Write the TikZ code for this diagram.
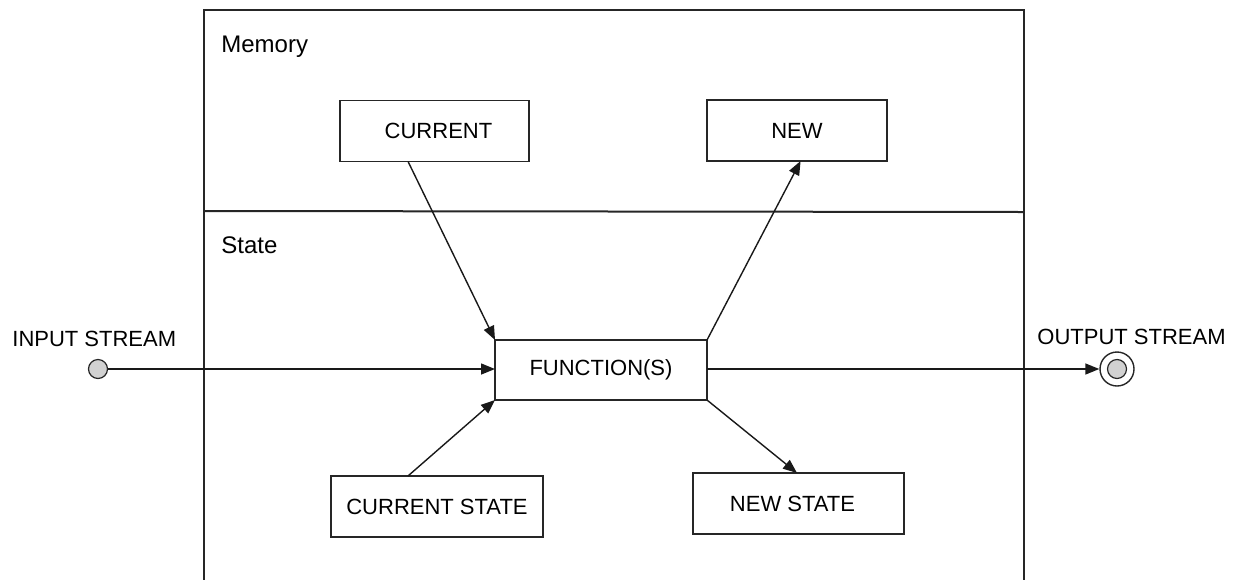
\documentclass[tikz,border=0pt]{standalone}
\usepackage{fontspec}
\setmainfont{Liberation Sans}
\usetikzlibrary{arrows.meta,calc}
\begin{document}
\begin{tikzpicture}[x=0.5pt,y=-0.5pt,
  frameline/.style={line width=1pt,draw=black!85},
  procbox/.style={draw=black!85,line width=0.8pt,rectangle,inner sep=0pt,outer sep=0pt,font=\fontsize{11}{13}\selectfont},
  flow/.style={draw=black!90,line width=0.7pt,-{Triangle[length=7pt,width=5.5pt]}},
  plainlabel/.style={inner sep=0pt,anchor=base west,font=\fontsize{11}{13}\selectfont},
  zonelabel/.style={inner sep=0pt,anchor=base west,font=\fontsize{12}{14}\selectfont},
  portdot/.style={circle,draw=black!85,line width=0.6pt,fill=black!18,inner sep=0pt,minimum size=9.5pt},
  portring/.style={circle,draw=black!85,line width=0.7pt,fill=white,inner sep=0pt,minimum size=17pt}
]
\useasboundingbox[fill=white] (0,0) rectangle (1246,579);

% outer frame with the memory / state divider
\draw[frameline] (204,585) -- (204,10) -- (1024,10) -- (1024,585);
\draw[frameline] (204,211) -- (1024,212);

\node[zonelabel] (memlbl) at (221,52) {Memory};
\node[zonelabel] (statelbl) at (221,253) {State};

% boxes
\node[procbox,minimum width=94.5pt,minimum height=30.5pt] (cur) at (434.5,131) {\hspace*{4pt}CURRENT};
\node[procbox,minimum width=90pt,minimum height=30.5pt] (new) at (797,130.5) {NEW};
\node[procbox,minimum width=106pt,minimum height=30pt] (fn) at (601,370) {FUNCTION(S)};
\node[procbox,minimum width=106pt,minimum height=30.5pt] (cs) at (437,506.5) {CURRENT STATE};
\node[procbox,minimum width=105.5pt,minimum height=30.5pt] (ns) at (798.5,503.5) {\hspace*{-6pt}NEW STATE};

% stream end points
\node[portdot] (in) at (98,369) {};
\node[plainlabel] (inlbl) at (12,346) {INPUT STREAM};
\node[portring] (out) at (1117,369) {};
\node[portdot] (outcore) at (out.center) {};
\node[plainlabel] (outlbl) at (1037,344) {OUTPUT STREAM};

% connectors
\draw[flow] ($(cur.south west)!0.36!(cur.south east)$) -- (fn.north west);
\draw[flow] (fn.north east) -- ($(new.south west)!0.52!(new.south east)$);
\draw[flow] ($(cs.north west)!0.363!(cs.north east)$) -- (fn.south west);
\draw[flow] (fn.south east) -- ($(ns.north west)!0.493!(ns.north east)$);
\draw[flow] (in.east) -- (in.east -| fn.west);
\draw[flow] (fn.east |- out.west) -- (out.west);
\end{tikzpicture}
\end{document}
